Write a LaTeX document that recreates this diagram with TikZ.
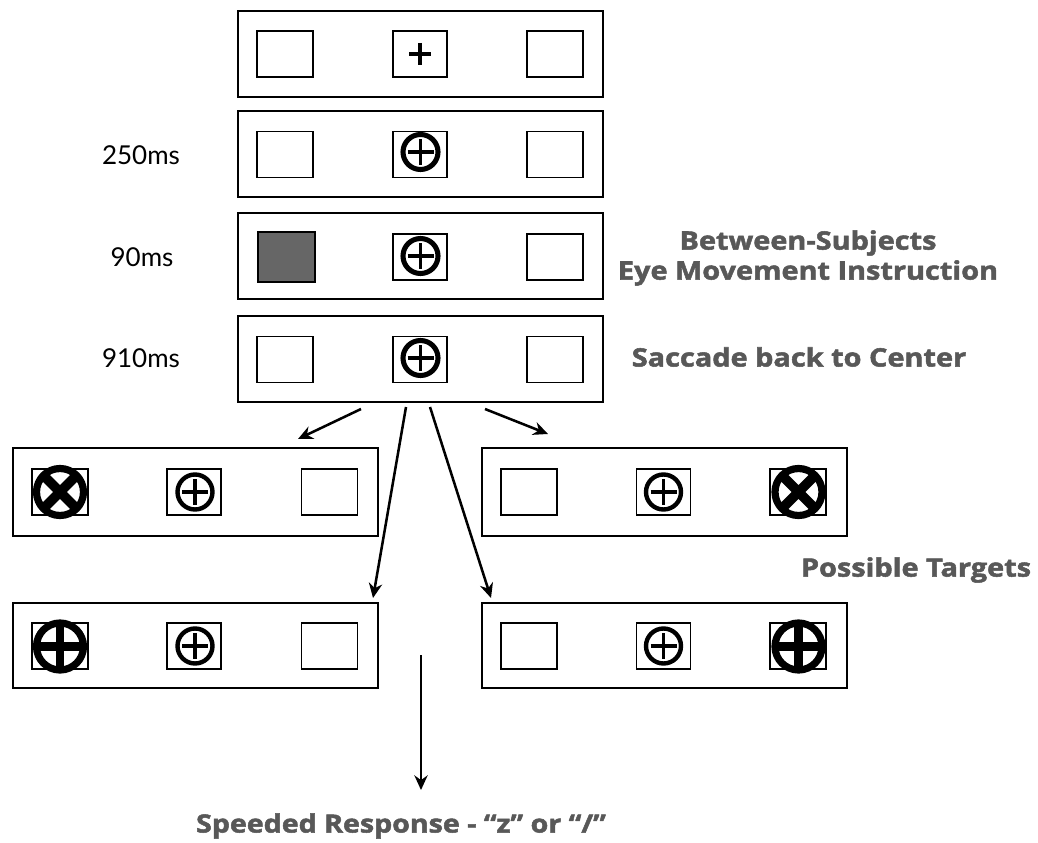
\documentclass[tikz,border=0pt]{standalone}
\usepackage{fontspec}
\setmainfont{Lato}
\newfontfamily\notefont{Open Sans}[FakeStretch=1.14, BoldFeatures={FakeBold=2}]
\usetikzlibrary{arrows.meta}
\definecolor{notegray}{HTML}{585858}
\definecolor{cuegray}{HTML}{666666}
\begin{document}
\begin{tikzpicture}[x=0.75pt,y=-0.75pt,
  panel/.style={draw, line width=1.2pt, minimum width={365*0.75pt}, minimum height={86*0.75pt}, inner sep=0pt, outer sep=0pt},
  cue/.style={draw, line width=1.1pt, minimum width={56*0.75pt}, minimum height={46*0.75pt}, inner sep=0pt, outer sep=0pt},
  fixbox/.style={cue, minimum width={54*0.75pt}},
  darkcue/.style={cue, fill=cuegray, minimum width={57*0.75pt}, minimum height={50*0.75pt}},
  timelbl/.style={font=\fontsize{19.5}{24}\selectfont, inner sep=0pt},
  note/.style={font=\notefont\bfseries\fontsize{19}{22.5}\selectfont, text=notegray, align=center, inner sep=0pt},
  arr/.style={line width=1.9pt, -{Stealth[length=11pt,width=10pt]}},
  plusonly/.pic={\draw[line width=2.9pt] (-11,0)--(11,0) (0,-11)--(0,11);},
  fixbig/.pic={\draw[line width=3.8pt] (0,0) circle[radius=17.5];
               \draw[line width=2.9pt] (-13,0)--(13,0) (0,-13)--(0,13);},
  fixsmall/.pic={\draw[line width=3.3pt] (0,0) circle[radius=17.5];
               \draw[line width=2.5pt] (-13,0)--(13,0) (0,-13)--(0,13);},
  targx/.pic={\draw[line width=5.4pt] (0,0) circle[radius=23.5];
              \draw[line width=7.4pt] (-16,-16)--(16,16) (-16,16)--(16,-16);},
  targplus/.pic={\draw[line width=5.4pt] (0,0) circle[radius=23.5];
              \draw[line width=6.4pt] (-23,0)--(23,0) (0,-23)--(0,23);}
]
\useasboundingbox (0,0) rectangle (1038,842);

% --- top sequence panels ---
\node[panel] (p1) at (420.5,54) {};
\node[panel] (p2) at (420.5,154) {};
\node[panel] (p3) at (420.5,256) {};
\node[panel] (p4) at (420.5,359) {};

% panel 1
\node[cue] (p1l) at (285,54) {};
\node[fixbox] (p1c) at (420,54) {};
\node[cue] (p1r) at (555,54) {};
\pic at (p1c) {plusonly};
% panel 2
\node[cue] (p2l) at (285,154.5) {};
\node[fixbox] (p2c) at (420,154.5) {};
\node[cue] (p2r) at (555,154.5) {};
\pic at (420.5,152) {fixbig};
% panel 3
\node[darkcue] (p3l) at (286.5,257) {};
\node[fixbox] (p3c) at (420,257) {};
\node[cue] (p3r) at (555,257) {};
\pic at (420.5,256) {fixbig};
% panel 4
\node[cue] (p4l) at (285,359.5) {};
\node[fixbox] (p4c) at (420,359.5) {};
\node[cue] (p4r) at (555,359.5) {};
\pic at (420.5,358) {fixbig};

% --- target panels ---
\node[panel, minimum height={88*0.75pt}] (t1) at (195.5,492) {};
\node[panel, minimum height={88*0.75pt}] (t2) at (664.5,492) {};
\node[panel, minimum height={85*0.75pt}] (t3) at (195.5,645.5) {};
\node[panel, minimum height={85*0.75pt}] (t4) at (664.5,645.5) {};

\node[cue] (t1l) at (60,492) {};
\node[fixbox] (t1c) at (194,492) {};
\node[cue] (t1r) at (329.5,492) {};
\pic at (t1l) {targx};
\pic at (195,492) {fixsmall};

\node[cue] (t2l) at (529,492) {};
\node[fixbox] (t2c) at (663.5,492) {};
\node[cue] (t2r) at (798,492) {};
\pic at (663.5,492) {fixsmall};
\pic at (798.5,492) {targx};

\node[cue] (t3l) at (60,646) {};
\node[fixbox] (t3c) at (194,646) {};
\node[cue] (t3r) at (329.5,646) {};
\pic at (60,646.5) {targplus};
\pic at (195,646) {fixsmall};

\node[cue] (t4l) at (529,646) {};
\node[fixbox] (t4c) at (663.5,646) {};
\node[cue] (t4r) at (798,646) {};
\pic at (663.5,646) {fixsmall};
\pic at (798.5,646.5) {targplus};

% --- arrows ---
\coordinate (aL0) at (361,409);
\coordinate (aL1) at (298,439);
\coordinate (aR0) at (485,409);
\coordinate (aR1) at (548,434);
\coordinate (bL0) at (406,407);
\coordinate (bL1) at (373,598);
\coordinate (bR0) at (430,407);
\coordinate (bR1) at (491,598);
\coordinate (cD0) at (421,655);
\coordinate (cD1) at (421,790);
\draw[arr] (aL0) -- (aL1);
\draw[arr] (aR0) -- (aR1);
\draw[arr] (bL0) -- (bL1);
\draw[arr] (bR0) -- (bR1);
\draw[arr, line width=1.5pt] (cD0) -- (cD1);

% --- labels ---
\node[timelbl] (l250) at (141,155) {250ms};
\node[timelbl] (l90) at (142,257) {90ms};
\node[timelbl] (l910) at (141,358) {910ms};

\node[note] (instr) at (808,258) {Between-Subjects\\Eye Movement Instruction};
\node[note] (sacc) at (799,357) {Saccade back to Center};
\node[note] (poss) at (916,570) {Possible Targets};
\node[note, font=\notefont\bfseries\fontsize{18.8}{22}\selectfont] (resp) at (401,826) {Speeded Response - “z” or “/”};
\end{tikzpicture}
\end{document}
